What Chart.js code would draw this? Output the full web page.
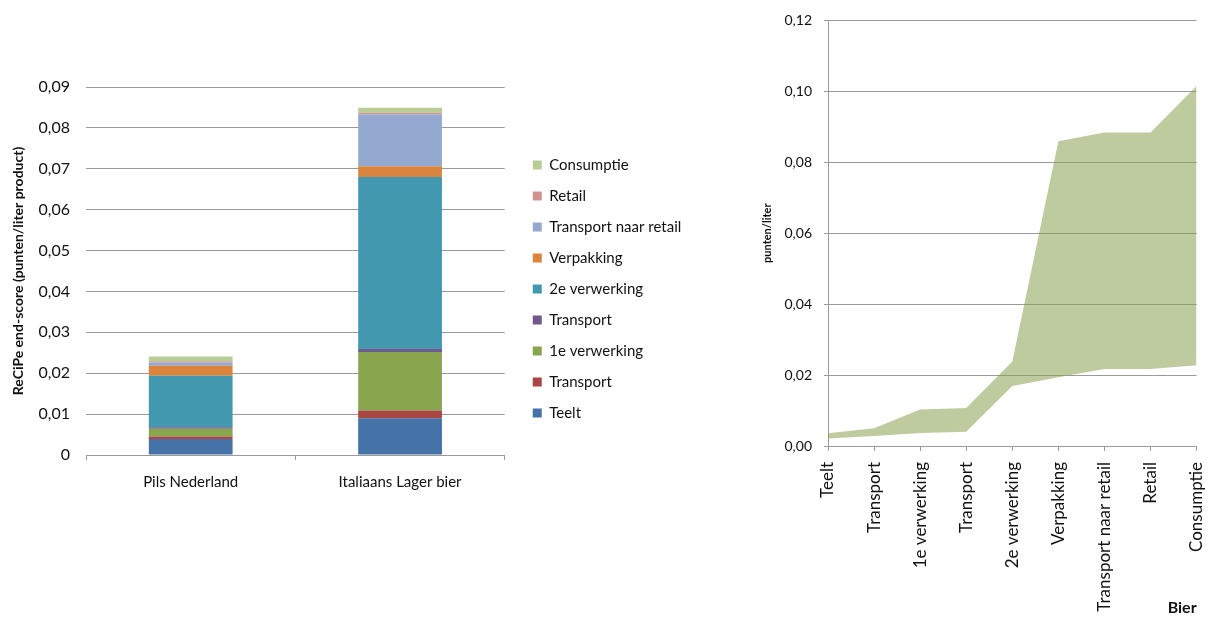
<!DOCTYPE html>
<html>
<head>
<meta charset="utf-8">
<script src="https://cdn.jsdelivr.net/npm/chart.js@4"></script>
<style>
  html, body { margin: 0; padding: 0; background: #fff; overflow: hidden; }
  #left { position: absolute; left: 0; top: 0; }
  #right { position: absolute; left: 740px; top: 0; }
</style>
</head>
<body>
<canvas id="left" width="720" height="619"></canvas>
<canvas id="right" width="488" height="640"></canvas>
<script>
// left chart: stacked score per beer
const products = ['Pils Nederland', 'Italiaans Lager bier'];
const teelt = [0.0039, 0.0090];
const transport1 = [0.0006, 0.0019];
const verwerking1 = [0.0019, 0.0143];
const transport2 = [0.0004, 0.0007];
const verwerking2 = [0.0126, 0.0421];
const verpakking = [0.0024, 0.0026];
const transportRetail = [0.0008, 0.0127];
const retail = [0.0003, 0.0004];
const consumptie = [0.0012, 0.0012];
const leftTicks = [0, 0.01, 0.02, 0.03, 0.04, 0.05, 0.06, 0.07, 0.08, 0.09];

// right chart: range band per chain step
const stages = ['Teelt', 'Transport', '1e verwerking', 'Transport', '2e verwerking',
    'Verpakking', 'Transport naar retail', 'Retail', 'Consumptie'];
const bandLow = [0.0021, 0.0028, 0.0037, 0.0040, 0.0169, 0.0194, 0.0217, 0.0217, 0.0228];
const bandHigh = [0.0036, 0.0050, 0.0103, 0.0107, 0.0238, 0.0859, 0.0884, 0.0884, 0.1015];
const rightTicks = [0, 0.02, 0.04, 0.06, 0.08, 0.10, 0.12];

const FONT = 'Lato, "Open Sans", sans-serif';
const GRID = '#9a9a9a';
const comma = v => v.toFixed(2).replace('.', ',');

const series = [
    ['Teelt', teelt, '#4572A7'],
    ['Transport', transport1, '#AA4643'],
    ['1e verwerking', verwerking1, '#89A54E'],
    ['Transport', transport2, '#71588F'],
    ['2e verwerking', verwerking2, '#4198AF'],
    ['Verpakking', verpakking, '#DB843D'],
    ['Transport naar retail', transportRetail, '#93A9CF'],
    ['Retail', retail, '#D19392'],
    ['Consumptie', consumptie, '#B9CD96']
];

// legend sits a bit right of the plot in the original
const nudgeLegend = {
    id: 'nudgeLegend',
    afterLayout(chart) {
        chart.legend.left += 12;
        chart.legend.right += 12;
    }
};

new Chart(document.getElementById('left'), {
    type: 'bar',
    plugins: [nudgeLegend],
    data: {
        labels: products,
        datasets: series.map(([label, data, color]) => ({
            label,
            data,
            backgroundColor: color,
            borderWidth: 0,
            barPercentage: 0.4,
            categoryPercentage: 1
        }))
    },
    options: {
        responsive: false,
        animation: false,
        layout: { padding: { top: 87, bottom: 128, left: 0, right: 47 } },
        plugins: {
            tooltip: { enabled: false },
            legend: {
                position: 'right',
                reverse: true,
                labels: {
                    boxWidth: 9,
                    boxHeight: 9,
                    padding: 16,
                    color: '#111',
                    font: { family: FONT, size: 15 }
                }
            }
        },
        scales: {
            x: {
                stacked: true,
                afterFit: s => { s.height = 36; },
                grid: { display: true, drawOnChartArea: false, tickLength: 5, color: GRID, offset: true },
                border: { display: true, color: GRID },
                ticks: { color: '#111', padding: 13, font: { family: FONT, size: 15 } }
            },
            y: {
                stacked: true,
                min: 0,
                max: 0.09,
                afterFit: s => { s.width = 86; },
                afterBuildTicks: s => { s.ticks = leftTicks.map(value => ({ value })); },
                grid: { color: GRID, drawTicks: false },
                border: { display: false },
                ticks: {
                    color: '#111',
                    padding: 16,
                    font: { family: FONT, size: 16 },
                    callback: v => v === 0 ? '0' : comma(v)
                },
                title: {
                    display: true,
                    text: 'ReCiPe end-score (punten/liter product)',
                    color: '#111',
                    padding: { top: 10, bottom: 0 },
                    font: { family: FONT, size: 14, weight: 'bold' }
                }
            }
        }
    }
});

new Chart(document.getElementById('right'), {
    type: 'line',
    data: {
        labels: stages,
        datasets: [{
            label: 'min',
            data: bandLow,
            borderWidth: 0,
            pointRadius: 0,
            fill: false
        }, {
            label: 'max',
            data: bandHigh,
            borderWidth: 0,
            pointRadius: 0,
            fill: '-1',
            backgroundColor: 'rgba(139,162,84,0.56)'
        }]
    },
    options: {
        responsive: false,
        animation: false,
        layout: { padding: { top: 20, right: 12, bottom: 0, left: 0 } },
        plugins: {
            legend: { display: false },
            tooltip: { enabled: false }
        },
        scales: {
            x: {
                offset: false,
                afterFit: s => { s.height = 194; },
                grid: { display: true, drawOnChartArea: false, tickLength: 5, color: GRID },
                border: { display: true, color: GRID },
                ticks: {
                    color: '#111',
                    padding: 11,
                    minRotation: 90,
                    maxRotation: 90,
                    autoSkip: false,
                    font: { family: FONT, size: 17 }
                },
                title: {
                    display: true,
                    text: 'Bier',
                    align: 'end',
                    color: '#111',
                    padding: { top: 0, bottom: 23 },
                    font: { family: FONT, size: 16, weight: 'bold' }
                }
            },
            y: {
                min: 0,
                max: 0.12,
                afterFit: s => { s.width = 88; },
                afterBuildTicks: s => { s.ticks = rightTicks.map(value => ({ value })); },
                grid: { color: GRID, tickLength: 4 },
                border: { display: true, color: GRID },
                ticks: {
                    color: '#111',
                    padding: 12,
                    font: { family: FONT, size: 14 },
                    callback: v => comma(v)
                },
                title: {
                    display: true,
                    text: 'punten/liter',
                    color: '#111',
                    padding: { top: 21, bottom: 0 },
                    font: { family: FONT, size: 11, weight: 'bold' }
                }
            }
        }
    }
});
</script>
</body>
</html>
